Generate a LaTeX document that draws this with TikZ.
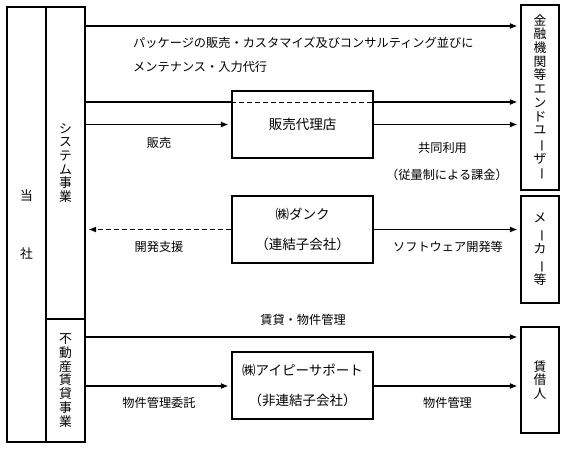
\documentclass[tikz,border=0pt]{standalone}
\usepackage{fontspec}
\setmainfont{Noto Sans CJK JP}
\usepackage{graphicx}
\usetikzlibrary{positioning,arrows.meta}
\newcommand{\tatebo}{\rotatebox[origin=c]{-90}{ー}}

\begin{document}
\begin{tikzpicture}[x=1pt, y=-1pt]
      \tikzstyle{box}=[rectangle, draw=black, line width=1.2pt, inner sep=0pt]
      \tikzstyle{tate}=[align=center, font=\fontsize{12.8}{13.7}\selectfont]
      \tikzstyle{corp}=[box, minimum width=141pt, minimum height=67pt, align=center, font=\fontsize{13.5}{30}\selectfont]
      \tikzstyle{dest}=[box, minimum width=38pt, tate]
      \tikzstyle{connect}=[-{Latex[length=7.5pt,width=6pt]}, line width=1.2pt, shorten >=3pt]
      \tikzstyle{lbl}=[inner sep=0pt, font=\fontsize{12.2}{14}\selectfont]

      \useasboundingbox (0,0) rectangle (567,448);

      % left column
      \node[box, minimum width=39pt, minimum height=435pt, tate] (tosha) at (26.5,224.5) {当\\[44pt]社};
      \node[box, minimum width=39pt, minimum height=312pt, tate] (sys) at (65.5,163) {シ\\ス\\テ\\ム\\事\\業};
      \node[box, minimum width=39pt, minimum height=123pt, tate] (fudo) at (65.5,380.5) {不\\動\\産\\賃\\貸\\事\\業};

      % middle
      \node[corp] (dairi) at (302.5,124.5) {販売代理店};
      \node[corp] (dank) at (302.5,229.5) {㈱ダンク\\（連結子会社）};
      \node[corp] (ip) at (302.5,385.5) {㈱アイピーサポート\\（非連結子会社）};

      % right column
      \node[dest, minimum height=185pt] (kinyu) at (540,97.5) {金\\融\\機\\関\\等\\エ\\ン\\ド\\ユ\\\tatebo\\ザ\\\tatebo};
      \node[dest, minimum height=107pt, font=\fontsize{12.8}{15.5}\selectfont] (maker) at (540,249.5) {メ\\\tatebo\\カ\\\tatebo\\等};
      \node[dest, minimum height=106pt] (chin) at (540,380) {賃\\借\\人};

      % system business
      \draw[connect] (sys.east |- 0,26) -- (kinyu.west |- 0,26);
      \node[lbl, anchor=west] (pkg1) at (133,43) {パッケージの販売・カスタマイズ及びコンサルティング並びに};
      \node[lbl, anchor=west] (pkg2) at (133,67) {メンテナンス・入力代行};

      \draw[line width=1.2pt] (sys.east |- 0,102) -- (dairi.west |- 0,102);
      \draw[line width=1pt, dash pattern=on 5pt off 3pt] (dairi.west |- 0,102) -- (dairi.east |- 0,102);
      \draw[connect] (dairi.east |- 0,102) -- (kinyu.west |- 0,102);

      \draw[connect] (sys.east |- dairi.west) -- (dairi.west);
      \draw[connect] (dairi.east) -- (kinyu.west |- dairi.east);
      \node[lbl] (hanbai) at (159,143) {販売};
      \node[lbl] (kyodo) at (442.5,148) {共同利用};
      \node[lbl] (juryo) at (447,175) {（従量制による課金）};

      \draw[connect, dash pattern=on 5pt off 3pt] (dank.west) -- (sys.east |- dank.west);
      \draw[connect] (dank.east) -- (maker.west |- dank.east);
      \node[lbl] (kaihatsu) at (159,247) {開発支援};
      \node[lbl] (soft) at (448,247) {ソフトウェア開発等};

      % real estate business
      \draw[connect] (fudo.east |- 0,337) -- (chin.west |- 0,337);
      \node[lbl] (chintai) at (303,320) {賃貸・物件管理};
      \draw[connect] (fudo.east |- 0,386) -- (ip.west |- 0,386);
      \draw[connect] (ip.east |- 0,386) -- (chin.west |- 0,386);
      \node[lbl] (itaku) at (159,403) {物件管理委託};
      \node[lbl] (kanri) at (447.5,403) {物件管理};
\end{tikzpicture}
\end{document}
